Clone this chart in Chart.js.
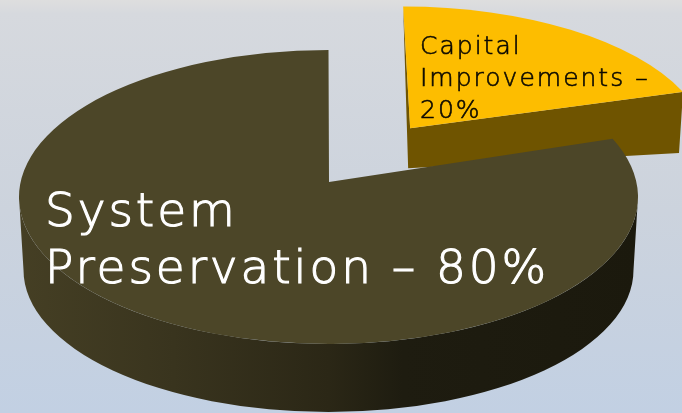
<!DOCTYPE html>
<html>
<head>
<meta charset="utf-8">
<title>Funding split</title>
<script src="https://cdn.jsdelivr.net/npm/chart.js@4/dist/chart.umd.min.js"></script>
<style>
  html, body { margin: 0; padding: 0; width: 682px; height: 413px; overflow: hidden;
    background: linear-gradient(to bottom, #dedede 0px, #d6d9de 14px, #ccd3dd 210px, #c2d0e3 413px); }
  canvas { display: block; }
</style>
</head>
<body>
<canvas id="pie" width="682" height="413"></canvas>
<script>
// --- data ---
const categories = ['Capital Improvements', 'System Preservation'];
const shares = [20, 80];
const labelLines = [['Capital', 'Improvements –', '20%'], ['System', 'Preservation – 80%']];

// --- look of the tilted pie ---
const topColors = ['#fdbd00', '#4c4628'];
const SQUASH = 0.475;    // height / width of the tilted disc
const WARP = 0.05;       // perspective pull of the slice edges towards the back
const yellowView = { explode: 127, scale: 0.985, squash: 0.465, apexDx: 7, apexDy: -20 };
const mainView = { explode: 0, scale: 1, squash: SQUASH, apexDx: 0.5, apexDy: -15 };
const views = [yellowView, mainView];

// perspective: the rim angle of the flat pie moved on the tilted disc
function warp(a) {
  const re = Math.cos(a), im = Math.sin(a);
  const nIm = im - WARP;
  const dRe = 1 - WARP * im, dIm = WARP * re;
  return Math.atan2(nIm * dRe - re * dIm, re * dRe + nIm * dIm);
}

// where one arc element lands on the tilted disc
function project(arc, view) {
  const mid = (arc.startAngle + arc.endAngle) / 2;
  const cx = arc.x + Math.cos(mid) * view.explode;
  const cy = arc.y + Math.sin(mid) * view.explode * SQUASH;
  return {
    cx, cy,
    rx: arc.outerRadius * view.scale,
    ry: arc.outerRadius * view.scale * view.squash,
    ax: cx + view.apexDx,
    ay: cy + view.apexDy,
    a0: warp(arc.startAngle),
    a1: warp(arc.endAngle)
  };
}

function rim(p, a) {
  return [p.cx + Math.cos(a) * p.rx, p.cy + Math.sin(a) * p.ry];
}

function drawYellowWall(ctx, p) {
  const [x, y] = rim(p, p.a1);
  const [tx, ty] = rim(p, p.a0);
  ctx.fillStyle = '#6f5400';
  ctx.beginPath();
  ctx.moveTo(tx, ty);
  ctx.lineTo(p.ax, p.ay);
  ctx.lineTo(x, y);
  ctx.lineTo(x - 4, y + 61);
  ctx.lineTo(p.ax - 2, p.ay + 40);
  ctx.closePath();
  ctx.fill();
}

function drawMainWall(ctx, p) {
  const grad = ctx.createLinearGradient(p.cx - p.rx, 0, p.cx + p.rx, 0);
  grad.addColorStop(0, '#453f24');
  grad.addColorStop(0.25, '#39341e');
  grad.addColorStop(0.5, '#2b2716');
  grad.addColorStop(0.62, '#1e1c10');
  grad.addColorStop(1, '#1b190d');
  ctx.fillStyle = grad;
  ctx.beginPath();
  ctx.ellipse(p.cx, p.cy, p.rx, p.ry, 0, 0, Math.PI);
  ctx.ellipse(p.cx, p.cy + 73, p.rx - 4.5, p.ry - 5, 0, Math.PI, 0, true);
  ctx.closePath();
  ctx.fill();
}

function drawTop(ctx, p, color) {
  ctx.fillStyle = color;
  ctx.beginPath();
  ctx.moveTo(p.ax, p.ay);
  ctx.lineTo.apply(ctx, rim(p, p.a0));
  ctx.ellipse(p.cx, p.cy, p.rx, p.ry, 0, p.a0, p.a1);
  ctx.closePath();
  ctx.fill();
}

// extra light face with a thin stroke, the original weight sits between light and book
function drawLines(ctx, lines, x, y, step, font, color, spacing, weight) {
  ctx.font = font;
  ctx.fillStyle = color;
  ctx.strokeStyle = color;
  ctx.lineWidth = weight;
  ctx.letterSpacing = spacing;
  ctx.textBaseline = 'alphabetic';
  lines.forEach((line, i) => {
    ctx.fillText(line, x, y + i * step);
    ctx.strokeText(line, x, y + i * step);
  });
}

const tiltedPie = {
  id: 'tiltedPie',
  // the arcs are drawn here instead of flat, from the elements the library laid out
  beforeDatasetsDraw(chart) {
    const ctx = chart.ctx;
    const arcs = chart.getDatasetMeta(0).data;
    const parts = arcs.map((arc, i) => project(arc, views[i]));
    ctx.save();
    drawYellowWall(ctx, parts[0]);
    drawTop(ctx, parts[0], topColors[0]);
    drawMainWall(ctx, parts[1]);
    drawTop(ctx, parts[1], topColors[1]);
    drawLines(ctx, labelLines[0], 420, 54, 32, '200 25px "DejaVu Sans"', '#0c0a02', '2px', 0.6);
    drawLines(ctx, labelLines[1], 45, 226, 57, '200 47px "DejaVu Sans"', '#ffffff', '2.9px', 1.1);
    ctx.restore();
    return false;
  }
};

new Chart(document.getElementById('pie'), {
  type: 'pie',
  data: {
    labels: categories,
    datasets: [{
      data: shares,
      backgroundColor: topColors,
      borderWidth: 0
    }]
  },
  options: {
    responsive: false,
    animation: false,
    radius: 309.5,
    rotation: 0,
    layout: { padding: { right: 25, bottom: 19 } },
    plugins: { legend: { display: false }, tooltip: { enabled: false } }
  },
  plugins: [tiltedPie]
});
</script>
</body>
</html>
